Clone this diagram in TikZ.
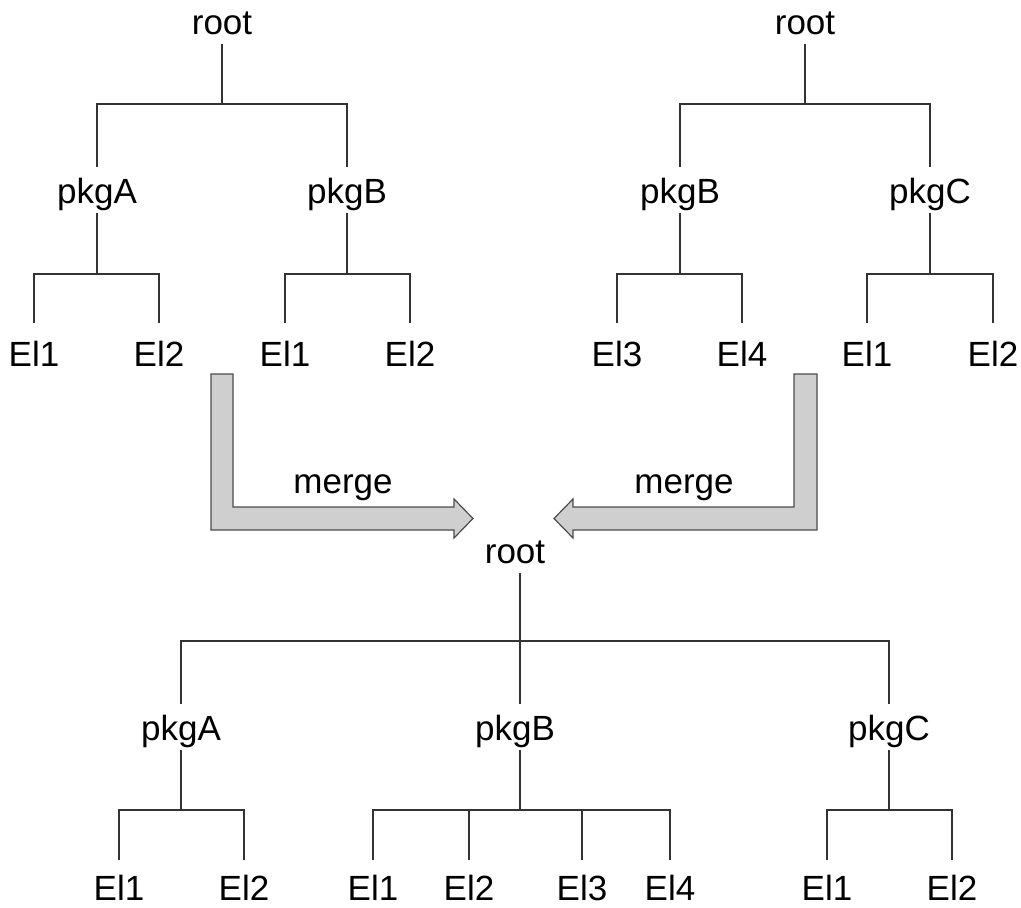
\documentclass[tikz,border=0pt]{standalone}
\usepackage{fontspec}
\setmainfont{Liberation Sans}
\begin{document}
\begin{tikzpicture}[x=1pt,y=-1pt,
  lbl/.style={font=\fontsize{35}{40}\selectfont, anchor=base, inner xsep=0pt, inner ysep=2pt, text height=25pt, text depth=8pt},
  ln/.style={draw=black!80, line width=1.3pt},
  gapA/.style={shorten >=9pt},
  gapB/.style={shorten >=16pt},
  gapC/.style={shorten >=13pt},
  blockarrow/.style={draw=black!70, line width=1.2pt, fill=black!19, line join=miter}]
\useasboundingbox (0,0) rectangle (1021,908);

% ---- top-left tree
\node[lbl] (r1) at (222,34) {root};
\node[lbl] (a1) at (97,203) {pkgA};
\node[lbl] (b1) at (347,203) {pkgB};
\node[lbl] (a1e1) at (34,366) {El1};
\node[lbl] (a1e2) at (159,366) {El2};
\node[lbl] (b1e1) at (285,366) {El1};
\node[lbl] (b1e2) at (410,366) {El2};
\draw[ln,gapA] (r1.south) -- (r1.south |- 0,104) -| (a1.north);
\draw[ln,gapA] (r1.south) -- (r1.south |- 0,104) -| (b1.north);
\draw[ln,gapB] (a1.south) -- (a1.south |- 0,274) -| (a1e1.north);
\draw[ln,gapB] (a1.south) -- (a1.south |- 0,274) -| (a1e2.north);
\draw[ln,gapB] (b1.south) -- (b1.south |- 0,274) -| (b1e1.north);
\draw[ln,gapB] (b1.south) -- (b1.south |- 0,274) -| (b1e2.north);

% ---- top-right tree
\node[lbl] (r2) at (805,34) {root};
\node[lbl] (b2) at (680,203) {pkgB};
\node[lbl] (c2) at (930,203) {pkgC};
\node[lbl] (b2e3) at (617,366) {El3};
\node[lbl] (b2e4) at (742,366) {El4};
\node[lbl] (c2e1) at (867,366) {El1};
\node[lbl] (c2e2) at (993,366) {El2};
\draw[ln,gapA] (r2.south) -- (r2.south |- 0,104) -| (b2.north);
\draw[ln,gapA] (r2.south) -- (r2.south |- 0,104) -| (c2.north);
\draw[ln,gapB] (b2.south) -- (b2.south |- 0,274) -| (b2e3.north);
\draw[ln,gapB] (b2.south) -- (b2.south |- 0,274) -| (b2e4.north);
\draw[ln,gapB] (c2.south) -- (c2.south |- 0,274) -| (c2e1.north);
\draw[ln,gapB] (c2.south) -- (c2.south |- 0,274) -| (c2e2.north);

% ---- merge arrows
\draw[blockarrow] (211,374) -- (233,374) -- (233,507) -- (454,507) -- (454,499)
  -- (473,518.5) -- (454,538) -- (454,530) -- (211,530) -- cycle;
\draw[blockarrow] (817,374) -- (794,374) -- (794,507) -- (573,507) -- (573,499)
  -- (554,518.5) -- (573,538) -- (573,530) -- (817,530) -- cycle;
\node[lbl] (m1) at (343,493) {merge};
\node[lbl] (m2) at (684,493) {merge};

% ---- bottom merged tree
\node[lbl] (r3) at (515,563) {root};
\node[lbl] (a3) at (181,740) {pkgA};
\node[lbl] (b3) at (515,740) {pkgB};
\node[lbl] (c3) at (889,740) {pkgC};
\node[lbl] (a3e1) at (119,900) {El1};
\node[lbl] (a3e2) at (244,900) {El2};
\node[lbl] (b3e1) at (373,900) {El1};
\node[lbl] (b3e2) at (469,900) {El2};
\node[lbl] (b3e3) at (582,900) {El3};
\node[lbl] (b3e4) at (670,900) {El4};
\node[lbl] (c3e1) at (827,900) {El1};
\node[lbl] (c3e2) at (952,900) {El2};
\coordinate (rs) at ([xshift=5pt]r3.south);
\coordinate (bs) at ([xshift=5pt]b3.south);
\draw[ln,gapA] (rs) -- (rs |- 0,641) -| (a3.north);
\draw[ln,shorten >=9pt] (rs) -- (rs |- 0,641) -- ([xshift=5pt]b3.north);
\draw[ln,gapA] (rs) -- (rs |- 0,641) -| (c3.north);
\draw[ln,gapC] (a3.south) -- (a3.south |- 0,810) -| (a3e1.north);
\draw[ln,gapC] (a3.south) -- (a3.south |- 0,810) -| (a3e2.north);
\draw[ln,gapC] (bs) -- (bs |- 0,810) -| (b3e1.north);
\draw[ln,gapC] (bs) -- (bs |- 0,810) -| (b3e2.north);
\draw[ln,gapC] (bs) -- (bs |- 0,810) -| (b3e3.north);
\draw[ln,gapC] (bs) -- (bs |- 0,810) -| (b3e4.north);
\draw[ln,gapC] (c3.south) -- (c3.south |- 0,810) -| (c3e1.north);
\draw[ln,gapC] (c3.south) -- (c3.south |- 0,810) -| (c3e2.north);
\end{tikzpicture}
\end{document}
